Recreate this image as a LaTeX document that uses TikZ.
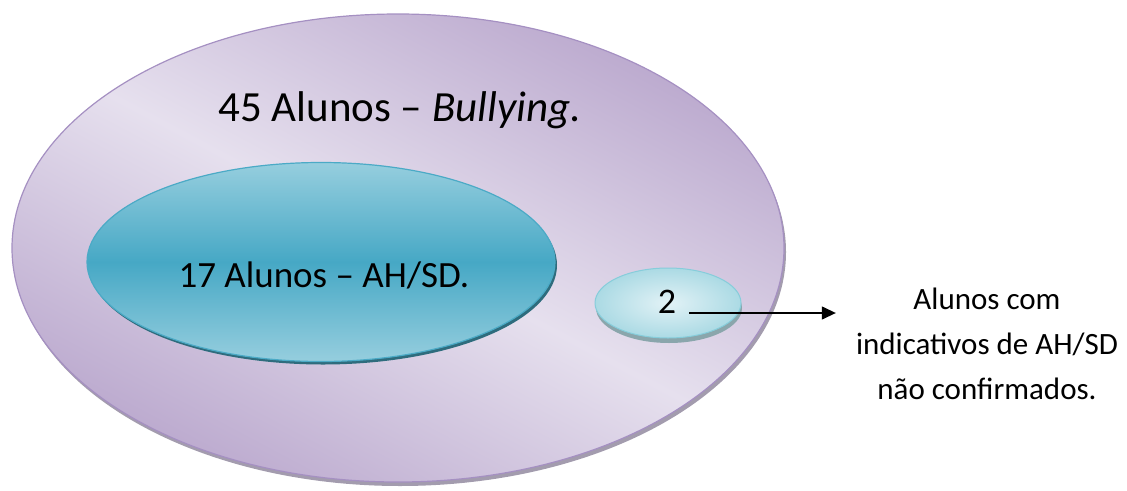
\documentclass[tikz,border=0pt]{standalone}
\usepackage{fontspec}
\setmainfont{Carlito}
\usetikzlibrary{arrows.meta, shapes.geometric, shadows}
\definecolor{lilaclight}{HTML}{E6E0EE}
\definecolor{lilacdark}{HTML}{BBA9CE}
\definecolor{lilacedge}{HTML}{A590C2}
\definecolor{lilacrim}{HTML}{A39CAE}
\definecolor{tealpale}{HTML}{96CEDE}
\definecolor{tealmid}{HTML}{46A8C5}
\definecolor{tealedge}{HTML}{4BAAC6}
\definecolor{tealshadow}{HTML}{2E6C7D}
\definecolor{icelight}{HTML}{E2F2F6}
\definecolor{icedark}{HTML}{ABDAE4}
\definecolor{iceedge}{HTML}{86CDDB}
\definecolor{icerim}{HTML}{8AA6AC}
\tikzset{
  bigset/.style={
    ellipse, draw=lilacedge, line width=1.2pt,
    minimum width=772pt, minimum height=468pt,
    top color=lilacdark, bottom color=lilacdark, middle color=lilaclight,
    shading angle=-28,
    general shadow={fill=lilacrim, shadow xshift=2pt, shadow yshift=-4pt}
  },
  subset/.style={
    ellipse, draw=tealedge, line width=1.2pt,
    minimum width=468pt, minimum height=199pt,
    top color=tealpale, bottom color=tealpale, middle color=tealmid,
    general shadow={fill=tealshadow, shadow xshift=2pt, shadow yshift=-3pt}
  },
  smallset/.style={
    ellipse, draw=iceedge, line width=1pt,
    minimum width=146pt, minimum height=70pt,
    inner color=icelight, outer color=icedark,
    general shadow={fill=icerim, shadow xshift=1pt, shadow yshift=-5pt}
  },
  lbl/.style={inner sep=0pt, anchor=base},
  note/.style={inner sep=0pt, align=center, font=\fontsize{31}{45}\selectfont}
}

\begin{document}
\begin{tikzpicture}[x=1pt, y=-1pt]
  \useasboundingbox (0,0) rectangle (1127,490);
  % the three sets
  \node[bigset] (alunos) at (398,248) {};
  \node[subset] (ahsd) at (321,262) {};
  \node[smallset] (naoconf) at (668,303) {};
  % labels
  \node[lbl, font=\fontsize{43}{50}\selectfont] (bullying) at (400,121) {45 Alunos -- \textit{Bullying.}};
  \node[lbl, font=\fontsize{37}{44}\selectfont] (ahsdlbl) at (324,287) {17 Alunos -- AH/SD.};
  \node[lbl, font=\fontsize{36}{42}\selectfont] (two) at (667,313) {2};
  \node[note] (legenda) at (987,344) {Alunos com\\indicativos de AH/SD\\não confirmados.};
  % pointer to the note
  \draw[line width=1.3pt, -{Triangle[length=14pt, width=13pt]}, shorten <=13pt, shorten >=20pt]
    (two.base east) -- (two.base east -| legenda.west);
\end{tikzpicture}
\end{document}
